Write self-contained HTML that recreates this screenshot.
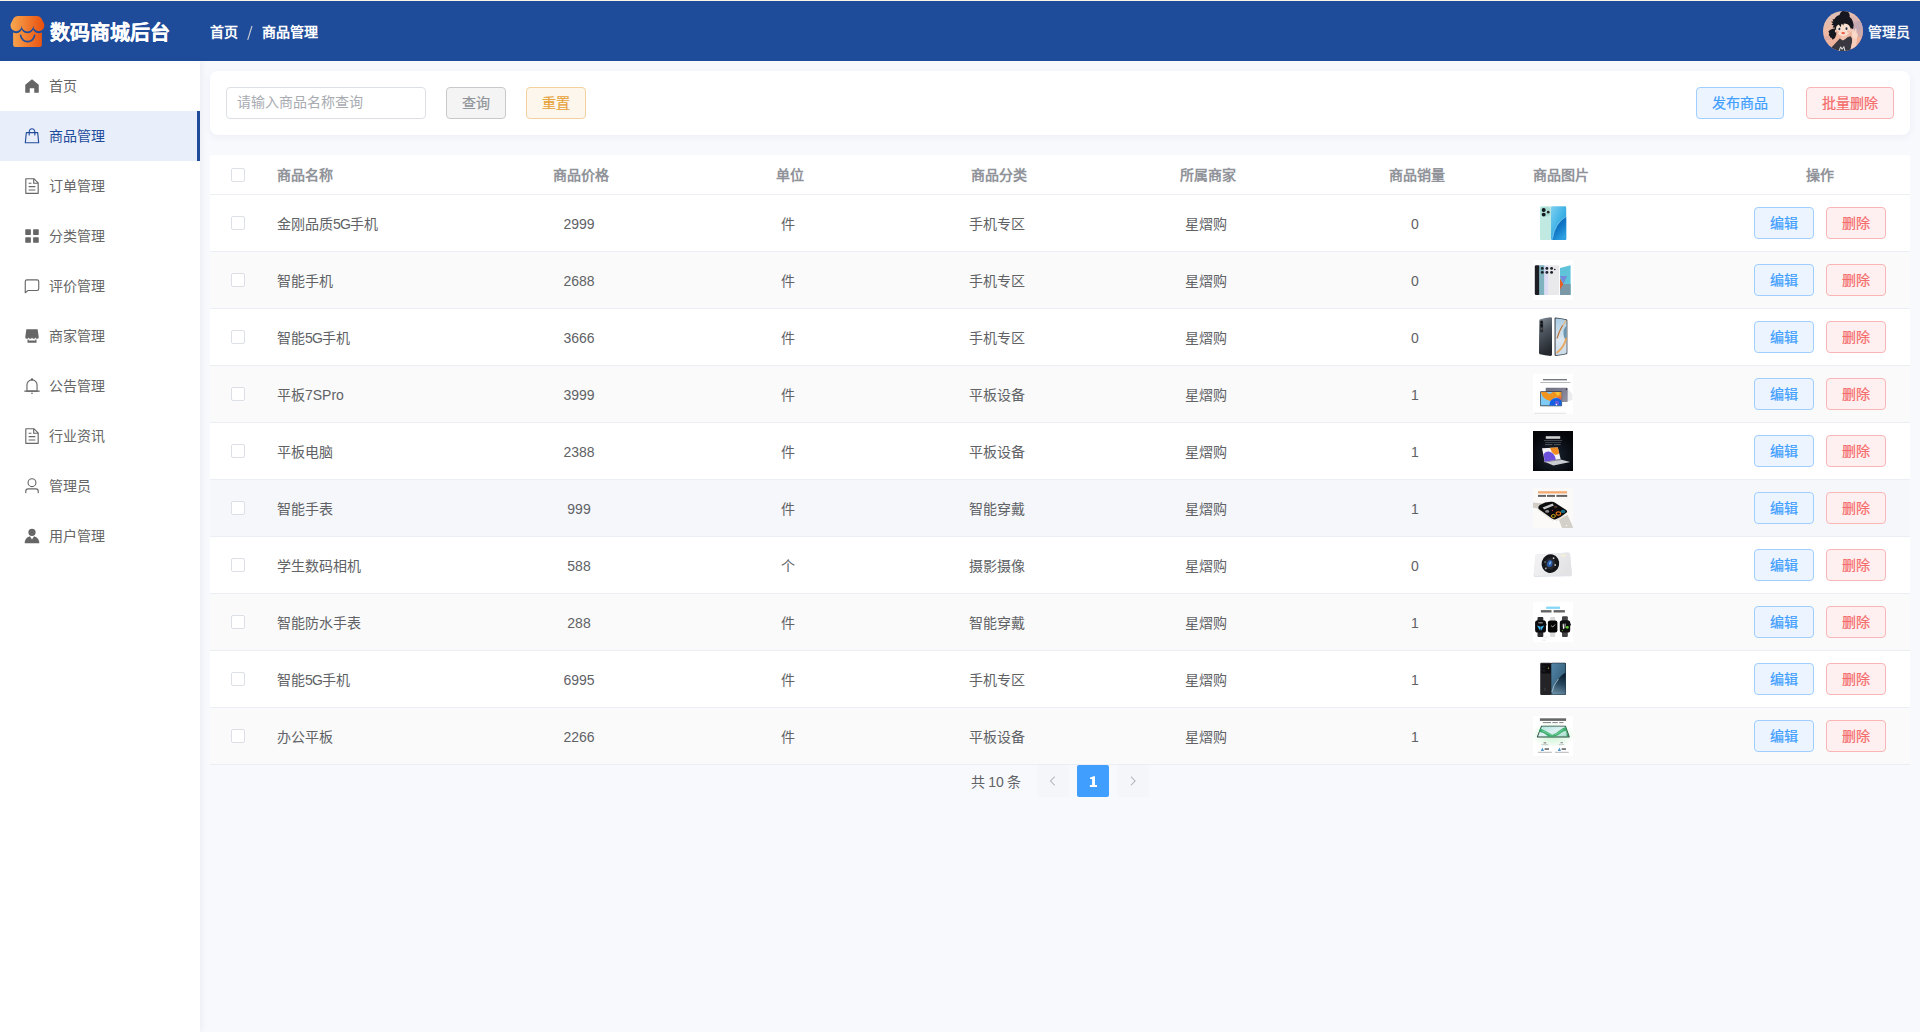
<!DOCTYPE html>
<html lang="zh-CN">
<head>
<meta charset="utf-8">
<title>数码商城后台</title>
<style>
*{box-sizing:border-box;margin:0;padding:0}
html,body{width:1920px;height:1032px;overflow:hidden}
body{font-family:"Liberation Sans",sans-serif;font-size:14px;color:#606266;background:#f8f9fd;position:relative}
.topline{position:absolute;left:0;top:0;width:1920px;height:1px;background:#f7f5e8}
/* header */
.header{position:absolute;left:0;top:1px;width:1920px;height:60px;background:#1f4c9a;color:#fff}
.logo{position:absolute;left:0;top:0}
.title{position:absolute;left:50px;top:17px;-webkit-text-stroke:.1px #fff;font-size:20px;font-weight:bold;line-height:30px;white-space:nowrap}
.crumb{position:absolute;left:210px;top:21px;font-size:14px;font-weight:bold;line-height:20px;white-space:nowrap}
.crumb .sep{display:inline-block;width:24px;height:20px;vertical-align:top}
.avatar{position:absolute;left:1823px;top:10px;width:40px;height:40px}
.uname{position:absolute;left:1868px;top:21px;-webkit-text-stroke:.35px currentColor;font-size:14px;line-height:20px;white-space:nowrap}
/* sidebar */
.side{position:absolute;left:0;top:61px;width:200px;height:971px;background:#fff;box-shadow:2px 0 6px rgba(31,45,90,.06)}
.mi{position:relative;height:50px;line-height:50px;padding-left:49px;color:#666;font-size:14px;white-space:nowrap}
.mi svg{position:absolute;left:23px;top:16px;width:18px;height:18px;fill:currentColor}
.mi.on{background:#e8eefa;color:#1f4c9a;border-right:3px solid #1f4c9a}
/* toolbar card */
.card{position:absolute;left:210px;top:71px;width:1700px;height:64px;background:#fff;border-radius:8px;box-shadow:0 2px 8px rgba(31,45,90,.05)}
.inp{position:absolute;left:16px;top:16px;width:200px;height:32px;border:1px solid #dcdfe6;border-radius:4px;padding:0 10px;line-height:28px;color:#a8abb2;font-size:14px;background:#fff;white-space:nowrap}
.btn{position:absolute;-webkit-text-stroke:.22px currentColor;height:32px;border:1px solid;border-radius:4px;font-size:14px;line-height:30px;text-align:center;white-space:nowrap}
.b-info{color:#909399;background:#f4f4f5;border-color:#c8c9cc}
.b-warn{color:#e6a23c;background:#fdf6ec;border-color:#f3d19e}
.b-pri{color:#409eff;background:#ecf5ff;border-color:#a0cfff}
.b-dan{color:#f56c6c;background:#fef0f0;border-color:#fab6b6}

/* table */
.tbl{position:absolute;left:210px;top:155px;width:1700px;background:#fff}
.tr{position:relative;height:57px;border-bottom:1px solid #ebeef5;background:#fff}
.tr.s{background:#fafafa}
.tr.h{background:#f5f7fa}
.tr.hd{height:40px;color:#909399;font-weight:bold}
.tr>div{position:absolute;top:0;height:56px;line-height:58px;white-space:nowrap;font-size:14px}
.tr.hd>div{height:39px;line-height:40px}
.ck{left:21px;top:21px !important;width:14px;height:14px !important;border:1px solid #dcdfe6;border-radius:2px;background:#fff}
.tr.hd .ck{top:13px !important}
.c1{left:67px}
.c2{left:266px;width:209px;text-align:center}
.c3{left:475px;width:209px;text-align:center}
.c4{left:684px;width:209px;text-align:center}
.c5{left:893px;width:209px;text-align:center}
.c6{left:1102px;width:209px;text-align:center}
.c7{left:1323px}
.c8{left:1520px;width:180px;text-align:center}
.im{position:absolute;left:1323px;top:8px !important;width:40px;height:40px !important}
.tr .btn{top:12px;width:60px;height:32px;line-height:30px}
.ls{letter-spacing:-.8px}
.tr:not(.hd)>.c2,.tr:not(.hd)>.c3,.tr:not(.hd)>.c4,.tr:not(.hd)>.c5,.tr:not(.hd)>.c6{margin-left:-1.5px}
/* pagination */
.pg{position:absolute;top:765px;height:32px;line-height:34px;word-spacing:-.6px;font-size:14px;color:#606266;white-space:nowrap}
.pb{position:absolute;top:765px;width:32px;height:32px;border-radius:2px;background:#f5f6fa;text-align:center}
.pb svg{position:absolute;left:10px;top:10px;width:12px;height:12px;fill:#a8abb2;stroke:#a8abb2;stroke-width:22}
.pb.act{background:#409eff;color:#fff;font-weight:bold;line-height:32px;font-size:14px}
</style>
</head>
<body>
<div class="topline"></div>

<div class="header">
  <svg class="logo" width="60" height="60" viewBox="0 1 60 60">
    <defs><linearGradient id="lg" gradientUnits="userSpaceOnUse" x1="10.5" y1="0" x2="44.5" y2="0"><stop offset="0" stop-color="#f8a850"/><stop offset="1" stop-color="#e84e0e"/></linearGradient></defs>
    <path d="M13.1 28 H41.9 V44.8 Q41.9 47 39.7 47 H15.3 Q13.1 47 13.1 44.8 Z" fill="url(#lg)"/>
    <g fill="#1f4c9a"><ellipse cx="16.1" cy="25.6" rx="6.75" ry="7.6"/><ellipse cx="27.45" cy="25.6" rx="6.95" ry="7.7"/><ellipse cx="38.8" cy="25.6" rx="6.75" ry="7.6"/></g>
    <path d="M17.6 15.9 H37.3 Q40.2 15.9 41.5 18.4 L44 23.4 Q44.4 24.4 44.35 25.6 A5.55 5.55 0 0 1 33.25 25.6 A5.8 5.8 0 0 1 21.65 25.6 A5.55 5.55 0 0 1 10.55 25.6 Q10.5 24.4 10.9 23.4 L13.4 18.4 Q14.7 15.9 17.6 15.9 Z" fill="url(#lg)"/>
    <path d="M20.6 35.4 A7.05 7.05 0 0 0 34.6 35.4" fill="none" stroke="#1f4c9a" stroke-width="1.6" stroke-linecap="round"/>
  </svg>
  <div class="title">数码商城后台</div>
  <div class="crumb">首页<span class="sep"><svg width="24" height="20" viewBox="0 0 24 20"><line x1="9.7" y1="17.8" x2="14" y2="4" stroke="#c6cad2" stroke-width="1.15"/></svg></span>商品管理</div>
  <svg class="avatar" width="40" height="40" viewBox="0 0 40 40">
    <defs>
      <clipPath id="avc"><circle cx="20" cy="20" r="20"/></clipPath>
      <linearGradient id="avbg" x1="0" y1="0" x2="0.3" y2="1"><stop offset="0" stop-color="#dbc0ba"/><stop offset=".5" stop-color="#eeb9a4"/><stop offset="1" stop-color="#efae98"/></linearGradient>
    </defs>
    <g clip-path="url(#avc)">
      <rect width="40" height="40" fill="url(#avbg)"/>
      <ellipse cx="34" cy="15" rx="6" ry="5.5" fill="#bda6b4" opacity=".85"/>
      <ellipse cx="37" cy="22" rx="5" ry="4" fill="#c9a9ae" opacity=".8"/>
      <ellipse cx="30" cy="9" rx="5" ry="3.5" fill="#d3b4b6" opacity=".7"/>
      <ellipse cx="4" cy="27" rx="6" ry="2" fill="#d9a7a0" opacity=".7"/>
      <!-- ponytail -->
      <path d="M12.5 17.5 Q7 17.5 5.2 21 Q7 21.3 5.6 24.2 Q7.3 24.4 7.2 26.6 Q8.8 26.2 9.6 28.8 Q12.8 27 13.4 23.2 Z" fill="#15161e"/>
      <!-- hair -->
      <circle cx="21.6" cy="4.6" r="5.1" fill="#15161e"/>
      <path d="M8 10.8 L10.6 10.2 L9.4 8.4 L11.6 8 Q13.6 3.6 20 3.8 Q27.5 4 29.8 10.5 Q31.2 14 30.2 17.5 Q28.6 18.4 27.6 16.2 L26.8 21 L13.2 21.6 Q11 19.4 11.8 16.6 L9.6 16.8 L10.8 14.6 L8.4 13.8 L10 12.2 Z" fill="#15161e"/>
      <!-- neck -->
      <path d="M18.2 23.6 L24 23.2 L24.6 27 L20 29.6 L17.6 27.6 Z" fill="#f2c2ae"/>
      <!-- face -->
      <path d="M13 18 Q13 14.6 15.8 13.6 L17.6 16.2 L18.6 12.8 Q19.8 13.2 20.4 14.6 L20.8 12.6 Q25.4 12.8 26.8 15.6 Q27.8 18 27.2 20 Q26 24.8 20.2 24.9 Q14 24.8 13 18 Z" fill="#fadfce"/>
      <ellipse cx="12.9" cy="20" rx="1" ry="1.5" fill="#f6d0be"/>
      <ellipse cx="27.6" cy="19.6" rx="1" ry="1.5" fill="#f6d0be"/>
      <ellipse cx="16.1" cy="17.9" rx="1.5" ry="1.6" fill="#eef0f2"/>
      <ellipse cx="23.7" cy="17.6" rx="1.5" ry="1.6" fill="#eef0f2"/>
      <ellipse cx="16.4" cy="18" rx="1" ry="1.35" fill="#2b2c38"/>
      <ellipse cx="23.5" cy="17.7" rx="1" ry="1.35" fill="#2b2c38"/>
      <circle cx="14.7" cy="21" r="1.4" fill="#f6ab9c" opacity=".75"/>
      <circle cx="25.6" cy="20.6" r="1.4" fill="#f6ab9c" opacity=".75"/>
      <ellipse cx="20.2" cy="22.1" rx="1.9" ry="1.1" fill="#ee5a48"/>
      <!-- shirt -->
      <path d="M8 37 L16.8 27.6 L19.8 29.4 Q22 28.6 24.4 26.2 L27.6 25.2 Q29.6 27 29 31 L27.2 40 L8 40 Z" fill="#39373f"/>
      <path d="M16.2 40 L17.6 35.8 L19.2 38.4 L20.8 35.6 L22 40" fill="none" stroke="#eceae8" stroke-width="1"/>
      <!-- arm + hand -->
      <path d="M29.6 26.2 L33.6 25.6 Q34.6 30 32.6 36 L27.6 38.2 Q29.6 31 29.6 26.2 Z" fill="#f6cebc"/>
      <path d="M29 21.4 L29.6 18.4 Q30.2 17.6 30.8 18.6 L31.2 21 L32.2 17.8 Q32.9 17 33.5 18 L33.4 21.4 Q35.4 22.4 34.6 25.4 Q33.6 28.4 30.6 27.6 Q28.4 26.4 29 21.4 Z" fill="#f9d8c7"/>
    </g>
  </svg>
  <div class="uname">管理员</div>
</div>

<div class="side">
  <div class="mi"><svg viewBox="0 0 1024 1024"><path d="M512 128 128 447.936V896h255.936V640H640v256h255.936V447.936z"/></svg>首页</div>
  <div class="mi on"><svg viewBox="0 0 1024 1024"><path d="M320 288v-22.336C320 154.688 405.504 64 512 64s192 90.688 192 201.664v22.4h131.072a32 32 0 0 1 31.808 28.8l57.6 576a32 32 0 0 1-31.808 35.2H131.328a32 32 0 0 1-31.808-35.2l57.6-576a32 32 0 0 1 31.808-28.8H320zm64 0h256v-22.336C640 189.248 582.272 128 512 128c-70.272 0-128 61.248-128 137.664v22.4zm-64 64H217.92l-51.2 512h690.56l-51.264-512H704v96a32 32 0 1 1-64 0v-96H384v96a32 32 0 0 1-64 0z"/></svg>商品管理</div>
  <div class="mi"><svg viewBox="0 0 1024 1024"><path d="M832 384H576V128H192v768h640zm-26.496-64L640 154.496V320zM160 64h480l256 256v608a32 32 0 0 1-32 32H160a32 32 0 0 1-32-32V96a32 32 0 0 1 32-32m160 448h384v64H320zm0-192h160v64H320zm0 384h384v64H320z"/></svg>订单管理</div>
  <div class="mi"><svg viewBox="0 0 1024 1024"><path d="M160 448a32 32 0 0 1-32-32V160.064a32 32 0 0 1 32-32h256a32 32 0 0 1 32 32V416a32 32 0 0 1-32 32zm448 0a32 32 0 0 1-32-32V160.064a32 32 0 0 1 32-32h255.936a32 32 0 0 1 32 32V416a32 32 0 0 1-32 32zM160 896a32 32 0 0 1-32-32V608a32 32 0 0 1 32-32h256a32 32 0 0 1 32 32v256a32 32 0 0 1-32 32zm448 0a32 32 0 0 1-32-32V608a32 32 0 0 1 32-32h255.936a32 32 0 0 1 32 32v256a32 32 0 0 1-32 32z"/></svg>分类管理</div>
  <div class="mi"><svg viewBox="0 0 1024 1024"><path d="M273.536 736H800a64 64 0 0 0 64-64V256a64 64 0 0 0-64-64H224a64 64 0 0 0-64 64v570.88zM296 800 147.968 918.4A32 32 0 0 1 96 893.44V256a128 128 0 0 1 128-128h576a128 128 0 0 1 128 128v416a128 128 0 0 1-128 128z"/></svg>评价管理</div>
  <div class="mi"><svg viewBox="0 0 1024 1024"><path d="M704 704h64v192H256V704h64v64h384zm188.544-152.192C894.528 559.616 896 567.616 896 576a96 96 0 1 1-192 0 96 96 0 1 1-192 0 96 96 0 1 1-192 0 96 96 0 1 1-192 0c0-8.384 1.408-16.384 3.392-24.192L192 128h640z"/></svg>商家管理</div>
  <div class="mi"><svg viewBox="0 0 1024 1024"><path d="M512 64a64 64 0 0 1 64 64v64H448v-64a64 64 0 0 1 64-64"/><path d="M256 768h512V448a256 256 0 1 0-512 0zm256-640a320 320 0 0 1 320 320v384H192V448a320 320 0 0 1 320-320"/><path d="M96 768h832q32 0 32 32t-32 32H96q-32 0-32-32t32-32m352 128h128a64 64 0 0 1-128 0"/></svg>公告管理</div>
  <div class="mi"><svg viewBox="0 0 1024 1024"><path d="M832 384H576V128H192v768h640zm-26.496-64L640 154.496V320zM160 64h480l256 256v608a32 32 0 0 1-32 32H160a32 32 0 0 1-32-32V96a32 32 0 0 1 32-32m160 448h384v64H320zm0-192h160v64H320zm0 384h384v64H320z"/></svg>行业资讯</div>
  <div class="mi"><svg viewBox="0 0 1024 1024"><path d="M512 512a192 192 0 1 0 0-384 192 192 0 0 0 0 384m0 64a256 256 0 1 1 0-512 256 256 0 0 1 0 512m320 320v-96a96 96 0 0 0-96-96H288a96 96 0 0 0-96 96v96a32 32 0 1 1-64 0v-96a160 160 0 0 1 160-160h448a160 160 0 0 1 160 160v96a32 32 0 1 1-64 0"/></svg>管理员</div>
  <div class="mi"><svg viewBox="0 0 1024 1024"><path d="M628.736 528.896A416 416 0 0 1 928 928H96a415.872 415.872 0 0 1 299.264-399.104L512 704zM720 304a208 208 0 1 1-416 0 208 208 0 0 1 416 0"/></svg>用户管理</div>
</div>

<div class="card">
  <div class="inp">请输入商品名称查询</div>
  <div class="btn b-info" style="left:236px;top:16px;width:60px">查询</div>
  <div class="btn b-warn" style="left:316px;top:16px;width:60px">重置</div>
  <div class="btn b-pri" style="left:1486px;top:16px;width:88px">发布商品</div>
  <div class="btn b-dan" style="left:1596px;top:16px;width:88px">批量删除</div>
</div>

<div class="tbl">
<div class="tr hd"><div class="ck"></div><div class="c1">商品名称</div><div class="c2">商品价格</div><div class="c3">单位</div><div class="c4">商品分类</div><div class="c5">所属商家</div><div class="c6">商品销量</div><div class="c7">商品图片</div><div class="c8">操作</div></div>
<div class="tr"><div class="ck"></div><div class="c1">金刚品质<span class="ls">5G</span>手机</div><div class="c2">2999</div><div class="c3">件</div><div class="c4">手机专区</div><div class="c5">星熠购</div><div class="c6">0</div><svg class="im" viewBox="0 0 40 40"><defs><linearGradient id="p1a" x1="0" y1="0" x2="1" y2="1"><stop offset="0" stop-color="#7fd0f0"/><stop offset=".5" stop-color="#3fb2e6"/><stop offset="1" stop-color="#1a8ad2"/></linearGradient><linearGradient id="p1b" x1="0" y1="0" x2="0.6" y2="1"><stop offset="0" stop-color="#0556ac"/><stop offset=".55" stop-color="#0f74c4"/><stop offset="1" stop-color="#2b9fe0"/></linearGradient></defs>
<rect width="40" height="40" fill="#fff"/>
<rect x="7" y="3.2" width="11.4" height="33.8" rx="1.3" fill="#bfe9e1"/>
<rect x="7.6" y="4" width="9.6" height="9.6" rx="3" fill="#a9dcd3"/>
<circle cx="10.7" cy="7" r="1.95" fill="#15181c"/><circle cx="10.7" cy="11.6" r="1.95" fill="#15181c"/><circle cx="15.2" cy="9.2" r="1.35" fill="#2a2422"/>
<rect x="18" y="3.2" width="15.2" height="33.8" rx="1.3" fill="url(#p1a)"/>
<path d="M33.2 13.5 Q22 20 19.4 35.6 Q19.6 37 20.6 37 L31.9 37 Q33.2 37 33.2 35.7 Z" fill="url(#p1b)"/>
<path d="M33.2 13.5 Q22 20 19.4 35.6" fill="none" stroke="#9fdcf5" stroke-width=".7" opacity=".8"/>
</svg><div class="btn b-pri" style="left:1544px">编辑</div><div class="btn b-dan" style="left:1616px">删除</div></div>
<div class="tr s"><div class="ck"></div><div class="c1">智能手机</div><div class="c2">2688</div><div class="c3">件</div><div class="c4">手机专区</div><div class="c5">星熠购</div><div class="c6">0</div><svg class="im" viewBox="0 0 40 40"><rect width="40" height="40" fill="#fff"/>
<rect x="1.8" y="5.3" width="5" height="29.6" rx="1.2" fill="#1d1e24"/>
<rect x="6.2" y="5.2" width="5.6" height="29.8" rx="1" fill="#7fb3c0"/>
<rect x="11.2" y="5.2" width="4.6" height="29.8" rx=".8" fill="#dcdcf4"/>
<rect x="15.3" y="5.2" width="10.9" height="29.8" rx="1.2" fill="#e9e9ec"/>
<g fill="#1c2228"><circle cx="9.3" cy="8.4" r="1.45"/><circle cx="9.3" cy="12.4" r="1.45"/><circle cx="13.9" cy="8.4" r="1.45"/><circle cx="13.9" cy="12.4" r="1.45"/><circle cx="18.6" cy="8.4" r="1.45"/><circle cx="18.6" cy="12.4" r="1.45"/><circle cx="21.8" cy="9.5" r=".8"/></g>
<path d="M27 8 L37.6 5.3 L37.6 34.9 L27 34.9 Z" fill="#5fc4da"/>
<path d="M27 24 L37.6 24 L37.6 34.2 Q37.6 34.9 36.8 34.9 L27.8 34.9 Q27 34.9 27 34.2 Z" fill="#7a98a5"/>
<path d="M27 16 L34 16 L30.4 24 Z" fill="#7489d9"/>
<path d="M27 18.4 L30.2 24 L27 29.4 Z" fill="#e85c20"/>
</svg><div class="btn b-pri" style="left:1544px">编辑</div><div class="btn b-dan" style="left:1616px">删除</div></div>
<div class="tr"><div class="ck"></div><div class="c1">智能<span class="ls">5G</span>手机</div><div class="c2">3666</div><div class="c3">件</div><div class="c4">手机专区</div><div class="c5">星熠购</div><div class="c6">0</div><svg class="im" viewBox="0 0 40 40"><defs><linearGradient id="p3a" x1="0" y1="0" x2="0.25" y2="1"><stop offset="0" stop-color="#858f99"/><stop offset=".45" stop-color="#4c545d"/><stop offset="1" stop-color="#25292f"/></linearGradient><linearGradient id="p3b" x1="0" y1="0" x2="0" y2="1"><stop offset="0" stop-color="#a9cde3"/><stop offset=".6" stop-color="#dde7f0"/><stop offset="1" stop-color="#c8dbe8"/></linearGradient></defs>
<rect width="40" height="40" fill="#fff"/>
<path d="M7.2 2.2 Q12 .8 17.6 .2 Q18.9 .2 19 1.6 L19 37.6 Q19 39 17.6 38.9 Q12 38.4 7 37.2 Q6 36.9 6 35.8 L6.2 3.6 Q6.2 2.5 7.2 2.2 Z" fill="url(#p3a)"/>
<rect x="7.2" y="3.6" width="2.9" height="12" rx="1.4" fill="#2a2e34"/>
<circle cx="8.6" cy="5.2" r="1.1" fill="#111316"/><circle cx="8.6" cy="8.4" r="1.25" fill="#0d0f12"/><circle cx="8.6" cy="11.8" r="1" fill="#5a554f"/>
<path d="M22.8 .4 Q28 .8 33.4 2.2 Q34.4 2.5 34.4 3.6 L34.4 35.8 Q34.4 36.9 33.4 37.2 Q28 38.4 22.8 38.9 Q21.5 39 21.5 37.6 L21.5 1.6 Q21.5 .3 22.8 .4 Z" fill="#474c53"/>
<path d="M23.4 1.4 Q28 1.8 32.8 3 Q33.6 3.3 33.6 4.2 L33.6 35.2 Q33.6 36.1 32.8 36.4 Q28 37.5 23.4 38 Q22.6 38 22.6 37.2 L22.6 2.2 Q22.6 1.4 23.4 1.4 Z" fill="url(#p3b)"/>
<path d="M33 3.4 Q27 12 24 21.4" fill="none" stroke="#e7b884" stroke-width="1.3"/>
<path d="M29.5 8.4 Q26 14 24 21.4" fill="none" stroke="#a9673b" stroke-width="1"/>
<path d="M33.4 9 Q29.6 12 30.6 18 Q32 24 33.4 22 Z" fill="#5b8aa4" opacity=".85"/>
<path d="M33.2 21 Q31.4 30 23.6 36" fill="none" stroke="#eba04e" stroke-width="1.8" opacity=".9"/>
</svg><div class="btn b-pri" style="left:1544px">编辑</div><div class="btn b-dan" style="left:1616px">删除</div></div>
<div class="tr s"><div class="ck"></div><div class="c1">平板7SPro</div><div class="c2">3999</div><div class="c3">件</div><div class="c4">平板设备</div><div class="c5">星熠购</div><div class="c6">1</div><svg class="im" viewBox="0 0 40 40"><defs><linearGradient id="p4a" x1="0" y1="0" x2="1" y2="1"><stop offset="0" stop-color="#6e6f80"/><stop offset="1" stop-color="#9191a2"/></linearGradient></defs>
<rect width="40" height="40" fill="#fff"/>
<rect x="10" y="5.2" width="24" height="1.1" fill="#55585e"/><rect x="7.3" y="8.1" width="30" height=".8" fill="#a4a6ab"/>
<path d="M34.6 14.4 L39.4 20 L39.4 26 L34.6 27.6 Z" fill="#ececee"/>
<rect x="12.7" y="13.7" width="22" height="14.4" rx=".9" fill="url(#p4a)"/>
<circle cx="33.4" cy="15.2" r=".6" fill="#1c1c22"/>
<rect x="7.1" y="17.3" width="22" height="14.9" rx=".9" fill="#3b4250"/>
<rect x="7.8" y="18" width="20.6" height="13.4" fill="#7fcbf6"/>
<path d="M7.8 18 L13.4 18 Q16.5 21.6 19.8 18 L28.4 18 L28.4 23.4 Q22 22 17.6 27 Q10 26 7.8 18 Z" fill="#f0931f"/>
<path d="M22 18 L26.6 18 Q27.5 20 25 22.6 Q23.4 20.5 22 18 Z" fill="#f8d040" opacity=".8"/>
<path d="M28.4 22.4 L28.4 26.4 Q25 23.6 23 24 Q25.4 22 28.4 22.4 Z" fill="#f3683a"/>
<path d="M16.4 31.4 Q16.4 24.2 24 24 Q28.4 24.4 28.4 28 L28.4 31.4 Z" fill="#1560e2"/>
<circle cx="24" cy="29" r="2.2" fill="#7a5ad8" opacity=".8"/><circle cx="23.4" cy="30.6" r=".8" fill="#fff"/>
<rect x="1" y="38.8" width="32" height=".8" fill="#d9dadd"/>
</svg><div class="btn b-pri" style="left:1544px">编辑</div><div class="btn b-dan" style="left:1616px">删除</div></div>
<div class="tr"><div class="ck"></div><div class="c1">平板电脑</div><div class="c2">2388</div><div class="c3">件</div><div class="c4">平板设备</div><div class="c5">星熠购</div><div class="c6">1</div><svg class="im" viewBox="0 0 40 40"><defs><radialGradient id="p5a" cx=".5" cy=".62" r=".6"><stop offset="0" stop-color="#1d2634"/><stop offset=".6" stop-color="#0d121a"/><stop offset="1" stop-color="#04060a"/></radialGradient></defs>
<rect width="40" height="40" fill="url(#p5a)"/>
<rect x="12.8" y="5.2" width="14.4" height="2.6" fill="#f2f2f2" opacity=".85"/>
<rect x="11" y="9.2" width="18" height=".8" fill="#4f535a"/><rect x="12" y="11.1" width="16" height=".8" fill="#44484f"/><rect x="12" y="13.2" width="7.4" height=".9" fill="#5b5f66"/><rect x="21" y="13.2" width="6.6" height=".9" fill="#5b5f66"/>
<path d="M11 30.6 L27.6 28.4 L37.2 31 L20.4 34.5 Z" fill="#c9cdd1"/>
<path d="M11 30.6 L27.6 28.4 L28.4 29 L11.6 31.4 Z" fill="#8a8e94"/>
<path d="M9 17.2 L24.8 16.4 L27.6 28 L11.8 30.8 Z" fill="#f4f3f8"/>
<path d="M17 16.8 L24.8 16.4 L26.2 22.2 Q24 24.4 21.6 23.6 Q18 21 17 16.8 Z" fill="#f08b21"/>
<path d="M10.6 23.6 Q12 20.4 15.8 20.6 Q21.6 21.6 22.8 28.9 L11.8 30.8 Z" fill="#6a50da"/>
</svg><div class="btn b-pri" style="left:1544px">编辑</div><div class="btn b-dan" style="left:1616px">删除</div></div>
<div class="tr s h"><div class="ck"></div><div class="c1">智能手表</div><div class="c2">999</div><div class="c3">件</div><div class="c4">智能穿戴</div><div class="c5">星熠购</div><div class="c6">1</div><svg class="im" viewBox="0 0 40 40"><rect width="40" height="40" fill="#fbfaf8"/>
<rect x="5" y="3.2" width="29" height="2.3" fill="#f08a3c" opacity=".72"/>
<g opacity=".72"><rect x="5" y="6.9" width="8" height="2" fill="#2a2a2a"/><rect x="14" y="6.9" width="8" height="2" fill="#2a2a2a"/><rect x="23.4" y="6.9" width="10.8" height="2" fill="#2a2a2a"/></g>
<path d="M0 14.6 L12 15.6 L7 21 L0 19.8 Z" fill="#d2cec7"/>
<path d="M25.6 31 L34.6 27 L39.6 38 L40 40 L29 40 Z" fill="#d3cfc9"/>
<circle cx="33.6" cy="37.6" r=".7" fill="#fff"/>
<path d="M6 17.6 Q12 13.2 19 13.6 Q21 13.6 23 15 L33.8 22.6 Q35.4 24 34 25.8 Q28 31.6 22.6 33.4 Q20.6 34 19 32.8 L5.4 22.6 Q3.4 20.6 6 17.6 Z" fill="#ece9e2"/>
<path d="M6.8 17 Q12.4 13.4 18.8 13.7 Q20.6 13.7 22.4 14.9 L33.2 22 Q34.8 23.2 33.6 24.6 Q28 29.6 22.6 31.2 Q20.6 31.8 19 30.6 L6 21.2 Q4.2 19.4 6.8 17 Z" fill="#0c0c0e"/>
<path d="M9.6 19.4 L19.6 15.6 L20.8 17.4 L11.2 21.6 Z" fill="#e9e9e9" opacity=".85"/>
<ellipse cx="14.2" cy="23.4" rx="2" ry="1.3" fill="#8d8d8f"/>
<ellipse cx="22.6" cy="19" rx="1.8" ry="1.2" fill="#4a3026"/>
<circle cx="19.4" cy="22.4" r=".6" fill="#d8305a"/>
<ellipse cx="20.4" cy="28" rx="2" ry="1.5" fill="none" stroke="#c9a21e" stroke-width="1"/>
<ellipse cx="25.4" cy="25.6" rx="2.3" ry="1.7" fill="none" stroke="#e06f16" stroke-width="1.1"/>
<ellipse cx="30" cy="23.4" rx="2.3" ry="1.6" fill="#126f8b"/>
<ellipse cx="21.4" cy="33.2" rx="1.7" ry="1" fill="#fff"/>
</svg><div class="btn b-pri" style="left:1544px">编辑</div><div class="btn b-dan" style="left:1616px">删除</div></div>
<div class="tr"><div class="ck"></div><div class="c1">学生数码相机</div><div class="c2">588</div><div class="c3">个</div><div class="c4">摄影摄像</div><div class="c5">星熠购</div><div class="c6">0</div><svg class="im" viewBox="0 0 40 40"><defs><linearGradient id="p7a" x1="0" y1="0" x2="1" y2=".4"><stop offset="0" stop-color="#f4f4f5"/><stop offset="1" stop-color="#e3e3e6"/></linearGradient></defs>
<rect width="40" height="40" fill="#fff"/>
<path d="M4 9.6 L35 7.4 Q36.6 7.4 37 9 L39 29.6 Q39.2 31 37.6 31.2 L2.4 32 Q.6 32 .6 30.4 L2.4 11 Q2.6 9.7 4 9.6 Z" fill="#dfe2ec"/>
<path d="M4 9.6 L35 7.4 Q36.6 7.4 37 9 L38.6 28.6 Q38.8 30 37.2 30.2 L2.4 31 Q.8 31 .8 29.6 L2.4 11 Q2.6 9.7 4 9.6 Z" fill="url(#p7a)"/>
<rect x="28.2" y="9.6" width="4.2" height="2" rx=".6" fill="#f5f3cf" transform="rotate(-4 30 10)"/>
<ellipse cx="17.4" cy="18.6" rx="8.8" ry="9.4" fill="#15161a" transform="rotate(14 17.4 18.6)"/>
<ellipse cx="17.2" cy="18.6" rx="5.2" ry="5.8" fill="#26282e" transform="rotate(14 17.2 18.6)"/>
<ellipse cx="16.8" cy="18.6" rx="2.7" ry="3.5" fill="#2a5aa8" transform="rotate(18 16.8 18.6)"/>
<ellipse cx="17.2" cy="18" rx=".9" ry="1.8" fill="#7fb0e6" transform="rotate(22 17.2 18)"/>
<circle cx="20.6" cy="13.2" r=".9" fill="#c9cbd0"/><circle cx="12" cy="17" r=".8" fill="#8e9096"/><circle cx="22.2" cy="20" r=".9" fill="#b9bbc0"/><circle cx="12.8" cy="23.4" r=".9" fill="#a9abb0"/>
</svg><div class="btn b-pri" style="left:1544px">编辑</div><div class="btn b-dan" style="left:1616px">删除</div></div>
<div class="tr s"><div class="ck"></div><div class="c1">智能防水手表</div><div class="c2">288</div><div class="c3">件</div><div class="c4">智能穿戴</div><div class="c5">星熠购</div><div class="c6">1</div><svg class="im" viewBox="0 0 40 40"><rect width="40" height="40" fill="#fff"/>
<rect x="13.2" y="4.6" width="13.8" height="2.3" fill="#52c4f2" opacity=".7"/>
<g opacity=".75"><rect x="7.9" y="8.1" width="10.6" height="2.4" fill="#303030"/><rect x="20.6" y="8.1" width="11.3" height="2.4" fill="#303030"/></g>
<rect x="4.5" y="14.9" width="5.8" height="20.1" rx="1" fill="#2b2b2d"/>
<rect x="17.1" y="14.9" width="5.1" height="20.1" rx="1" fill="#dadada"/>
<rect x="29" y="14.2" width="5.8" height="20.8" rx="1" fill="#424244"/>
<rect x="2.1" y="18.2" width="10.9" height="12.3" rx="2.6" fill="#0b0b0d"/>
<rect x="14.9" y="18.4" width="9.5" height="12" rx="2.2" fill="#050506"/>
<rect x="26.8" y="18.2" width="10.4" height="12.3" rx="2.6" fill="#0d0e0d"/>
<rect x="37" y="21.4" width="1" height="2.2" rx=".4" fill="#333"/><rect x="12.8" y="21.4" width=".8" height="2" rx=".4" fill="#333"/>
<path d="M4 23.4 L7.2 28.8 L7.6 24.8 Z" fill="#3fb6f2"/><path d="M11.2 23.4 L8 28.8 L7.6 24.8 Z" fill="#3fb6f2"/>
<rect x="5.4" y="20.2" width="4.4" height="1.2" fill="#8d8f92"/>
<path d="M18 23.6 L19.8 25 L22 22.6" fill="none" stroke="#e8e8e8" stroke-width=".7"/>
<path d="M29.6 22 L30.6 21.6 L31.4 26.4 L30 27 Z" fill="#efefef"/><path d="M31.6 21.8 L32.6 21.6 L32.4 25.6 L31.6 26.2 Z" fill="#d9d9d9"/>
<circle cx="34.3" cy="25.3" r="1.4" fill="#5fd12e"/><circle cx="29.4" cy="28.6" r=".6" fill="#4aa52a"/>
<path d="M9.6 35.6 Q13 37.6 14.4 33.8" fill="none" stroke="#e4e4e4" stroke-width=".7"/><path d="M9 38 L12.6 38.4" stroke="#e9e9e9" stroke-width="1"/>
</svg><div class="btn b-pri" style="left:1544px">编辑</div><div class="btn b-dan" style="left:1616px">删除</div></div>
<div class="tr"><div class="ck"></div><div class="c1">智能<span class="ls">5G</span>手机</div><div class="c2">6995</div><div class="c3">件</div><div class="c4">手机专区</div><div class="c5">星熠购</div><div class="c6">1</div><svg class="im" viewBox="0 0 40 40"><defs><linearGradient id="p9a" x1="0" y1="0" x2="1" y2="1"><stop offset="0" stop-color="#5486a8"/><stop offset=".55" stop-color="#3c6885"/><stop offset="1" stop-color="#2e556f"/></linearGradient><linearGradient id="p9b" x1=".6" y1="0" x2=".4" y2="1"><stop offset="0" stop-color="#081a2a"/><stop offset=".5" stop-color="#26475e"/><stop offset="1" stop-color="#6a8ca2"/></linearGradient></defs>
<rect width="40" height="40" fill="#fff"/>
<rect x="7.2" y="3.7" width="11" height="32.4" rx="1.3" fill="#242428"/>
<rect x="8.4" y="5" width="9.4" height="9.6" rx="1" fill="#0c0c0f"/>
<circle cx="10.8" cy="7.8" r="1.4" fill="#1b1c22"/><circle cx="10.8" cy="11.6" r="1.4" fill="#1b1c22"/><circle cx="15.4" cy="9.2" r=".6" fill="#c9b64a"/>
<rect x="11" y="29" width="1.8" height="2.6" fill="#34353a"/>
<rect x="17.8" y="3.7" width="15.2" height="32.4" rx="1.3" fill="#10161c"/>
<rect x="18.3" y="4.3" width="14.2" height="31.2" rx="1" fill="url(#p9a)"/>
<path d="M32.5 13.6 Q22 20 19 33.8 Q18.6 35.5 19.6 35.5 L31.5 35.5 Q32.5 35.5 32.5 34.5 Z" fill="url(#p9b)"/>
<path d="M25.4 20 Q20.4 26 18.8 33" fill="none" stroke="#d2e2ec" stroke-width=".8" opacity=".8"/>
</svg><div class="btn b-pri" style="left:1544px">编辑</div><div class="btn b-dan" style="left:1616px">删除</div></div>
<div class="tr s"><div class="ck"></div><div class="c1">办公平板</div><div class="c2">2266</div><div class="c3">件</div><div class="c4">平板设备</div><div class="c5">星熠购</div><div class="c6">1</div><svg class="im" viewBox="0 0 40 40"><defs><radialGradient id="p10a" cx=".5" cy=".55" r=".55"><stop offset="0" stop-color="#c9f3d2"/><stop offset=".7" stop-color="#eefbf0"/><stop offset="1" stop-color="#ffffff"/></radialGradient><linearGradient id="p10b" x1="0" y1="0" x2="1" y2="1"><stop offset="0" stop-color="#a9e2da"/><stop offset=".5" stop-color="#dff1f3"/><stop offset="1" stop-color="#9edbc6"/></linearGradient></defs>
<rect width="40" height="40" fill="#fff"/><rect y="6" width="40" height="24" fill="url(#p10a)"/>
<rect x="6.9" y="2.3" width="26.2" height="2.6" fill="#3a3d3c" opacity=".78"/>
<rect x="9.8" y="6.2" width="8.2" height=".9" fill="#6f7372"/><rect x="19.4" y="6.2" width="5.4" height=".9" fill="#6f7372"/><rect x="26.2" y="6.2" width="4.3" height=".9" fill="#6f7372"/>
<path d="M8.2 9.7 L32.8 9.7 L36.6 20.4 Q36.8 21.6 35.6 21.6 L5 21.6 Q3.8 21.6 4 20.4 Z" fill="#274a3a"/>
<path d="M8.8 10.4 L32.2 10.4 L35.6 20.4 L5 20.4 Z" fill="url(#p10b)"/>
<path d="M7 12.6 Q13 14.6 21.5 20.4 L15.5 20.4 Q11 16.8 5.9 15.6 Z" fill="#2fa862" opacity=".92"/><path d="M13 20.4 Q21 19.4 26.4 14.4 Q29.6 11.6 32.5 11 L33.9 15 Q30.4 14.8 27.4 17.4 Q24.6 19.8 21 20.4 Z" fill="#36ad68" opacity=".92"/>
<path d="M32.2 10.4 L35.6 20.4 L33.6 20.4 Q33.8 17 32.9 14 Q32.4 12 31.6 10.4 Z" fill="#2c9c5c" opacity=".9"/><path d="M9 14.6 Q15 17.4 19.6 19.6" fill="none" stroke="#8fdcb0" stroke-width=".7"/><path d="M22 18.6 Q26.6 16.8 29.6 13.4" fill="none" stroke="#8fdcb0" stroke-width=".7"/>
<rect x="10.6" y="26.2" width="2.6" height="1.3" fill="#8a8d8c"/><rect x="8.4" y="28.4" width="6.8" height=".8" fill="#b4b7b6"/>
<rect x="27.4" y="26" width="2.6" height="1.3" fill="#9a9d9c"/><rect x="25.8" y="28.3" width="5.4" height=".8" fill="#bdc0bf"/>
<path d="M9.4 31.6 L11 35 L7.8 35 Z" fill="#4a94cc"/><rect x="11.6" y="32.2" width="4.4" height="1.7" fill="#6e7271"/>
<path d="M26.4 31.6 L28 35 L24.8 35 Z" fill="#4a94cc"/><rect x="28.6" y="32.2" width="4.4" height="1.7" fill="#6e7271"/>
<rect x="5" y="35.8" width="13.8" height=".9" fill="#a9adac"/><rect x="22" y="35.8" width="13.8" height=".9" fill="#a9adac"/>
</svg><div class="btn b-pri" style="left:1544px">编辑</div><div class="btn b-dan" style="left:1616px">删除</div></div>
</div>
<div class="pg" style="left:971px">共 10 条</div>
<div class="pb" style="left:1037px"><svg viewBox="0 0 1024 1024"><path d="M609.408 149.376 277.76 489.6a32 32 0 0 0 0 44.672l331.648 340.352a29.12 29.12 0 0 0 41.728 0 30.592 30.592 0 0 0 0-42.752L339.264 511.936l311.872-319.872a30.592 30.592 0 0 0 0-42.688 29.12 29.12 0 0 0-41.728 0z"/></svg></div>
<div class="pb act" style="left:1077px"><svg viewBox="0 0 32 32" style="left:0;top:0;width:32px;height:32px"><path d="M18 11.2 L16.3 11.2 Q15.6 12.2 13 12.6 L13 14 L15.1 14 L15.1 20 L12.9 20 L12.9 22 L20 22 L20 20 L18 20 Z" style="fill:#fff;stroke:none"/></svg></div>
<div class="pb" style="left:1117px"><svg viewBox="0 0 1024 1024"><path d="M340.864 149.312a30.592 30.592 0 0 0 0 42.752L652.736 512 340.864 831.872a30.592 30.592 0 0 0 0 42.752 29.12 29.12 0 0 0 41.728 0L714.24 534.336a32 32 0 0 0 0-44.672L382.592 149.376a29.12 29.12 0 0 0-41.728 0z"/></svg></div>

</body>
</html>
